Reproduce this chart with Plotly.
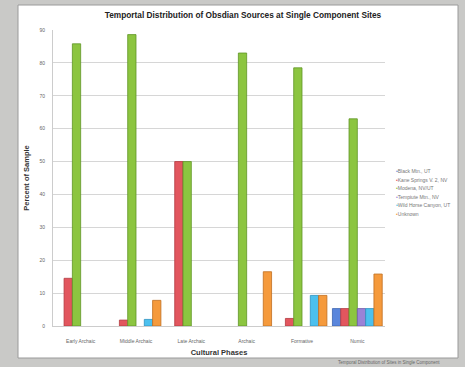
import plotly.graph_objects as go

categories = ["Early Archaic", "Middle Archaic", "Late Archaic", "Archaic", "Formative", "Numic"]
series_names = ["Black Mtn., UT", "Kane Springs V. 2, NV", "Modena, NV/UT",
                "Tempiute Mtn., NV", "Wild Horse Canyon, UT", "Unknown"]
black_mtn = [0, 0, 0, 0, 0, 5.3]
kane_springs = [14.5, 1.8, 50, 0, 2.3, 5.3]
modena = [85.8, 88.6, 50, 83, 78.5, 63]
tempiute = [0, 0, 0, 0, 0, 5.3]
wild_horse = [0, 2, 0, 0, 9.3, 5.3]
unknown = [0, 7.8, 0, 16.5, 9.3, 15.8]
y_ticks = [0, 10, 20, 30, 40, 50, 60, 70, 80, 90]

series_values = [black_mtn, kane_springs, modena, tempiute, wild_horse, unknown]
colors = ["#5a86dc", "#e2565e", "#8cc540", "#9a82d6", "#4cc0ee", "#f59a3c"]
edges = ["#3b63b0", "#b23a40", "#5f9626", "#6f58aa", "#2f92c0", "#c06e20"]

fig = go.Figure()
for name, vals, c, e in zip(series_names, series_values, colors, edges):
    fig.add_trace(go.Bar(
        x=categories, y=vals, name=name,
        marker=dict(color=c, line=dict(color=e, width=[0.8 if v > 0 else 0 for v in vals])),
        showlegend=False,
    ))

W, H = 465, 367
L, R, T, B = 53, 80, 30, 41
pw, ph = W - L - R, H - T - B

def px_x(px):
    return (px - L) / pw

def px_y(py):
    return (H - B - py) / ph

fig.add_shape(type="rect", xref="paper", yref="paper",
              x0=px_x(18), x1=px_x(458), y0=px_y(358), y1=px_y(5),
              fillcolor="white", line=dict(color="#9a9a9a", width=1), layer="below")

annotations = [dict(
    text="Temporal Distribution of Sites in Single Component", xref="paper", yref="paper",
    x=px_x(336), y=px_y(362), xanchor="left", yanchor="middle", showarrow=False,
    font=dict(size=4.5, color="#666"),
)]
for i, (name, c) in enumerate(zip(series_names, colors)):
    annotations.append(dict(
        text=f"<span style='color:{c}'>•</span>{name}", xref="paper", yref="paper",
        x=px_x(394), y=px_y(171 + i * 8.6), xanchor="left", yanchor="middle",
        showarrow=False, font=dict(size=5, color="#777"),
    ))

fig.update_layout(
    width=W, height=H,
    margin=dict(l=L, r=R, t=T, b=B, autoexpand=False),
    paper_bgcolor="#c9c9c7",
    plot_bgcolor="white",
    barmode="group",
    bargap=0.1,
    bargroupgap=0.0,
    showlegend=False,
    font=dict(family="Liberation Sans, Arial, sans-serif", color="#555"),
    title=dict(text="<b>Temportal Distribution of Obsdian Sources at Single Component Sites</b>",
               x=243 / W, xanchor="center", y=1 - 15 / H, yanchor="middle",
               font=dict(size=8.3, color="#222")),
    xaxis=dict(
        title=dict(text="<b>Cultural Phases</b>", font=dict(size=7.5, color="#333"), standoff=6),
        tickfont=dict(size=5, color="#666"),
        showline=True, linecolor="#cccccc",
        ticks="outside", ticklen=10, tickcolor="rgba(0,0,0,0)",
    ),
    yaxis=dict(
        title=dict(text="<b>Percent of Sample</b>", font=dict(size=7.5, color="#333"), standoff=8),
        range=[0, 90], tickvals=y_ticks,
        tickfont=dict(size=5, color="#666"),
        showgrid=True, gridcolor="#d6d6d6", gridwidth=1,
        showline=True, linecolor="#cccccc", zeroline=False,
        ticks="outside", ticklen=6, tickcolor="rgba(0,0,0,0)",
    ),
    annotations=annotations,
)

fig.write_html("out.html")
